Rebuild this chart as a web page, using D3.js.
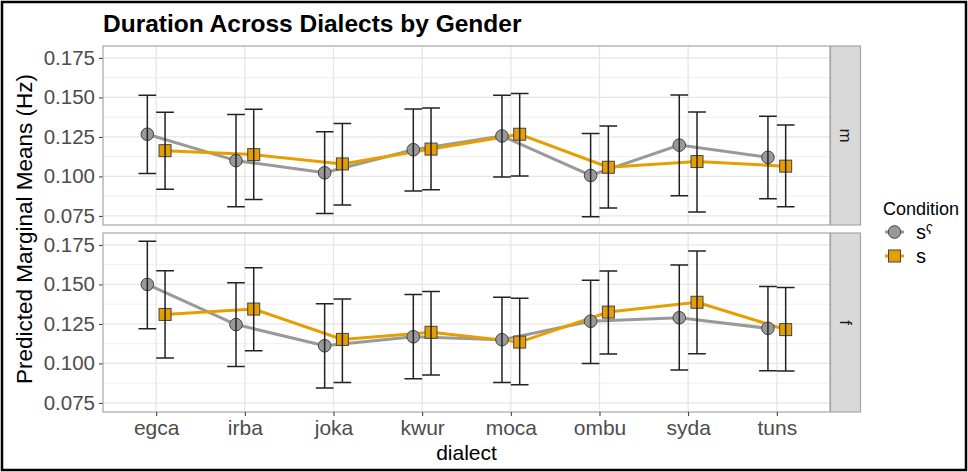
<!DOCTYPE html>
<html>
<head>
<meta charset="utf-8">
<script src="https://cdn.jsdelivr.net/npm/d3@7"></script>
<style>
  html, body { margin: 0; padding: 0; background: #fff; }
  svg { display: block; font-family: "Liberation Sans", Arial, Helvetica, sans-serif; }
</style>
</head>
<body>
<svg id="chart" width="968" height="472"></svg>
<script>
// Dialects along the x axis
const dialects = ["egca", "irba", "joka", "kwur", "moca", "ombu", "syda", "tuns"];
// Facet rows (gender) and legend conditions
const genders = ["m", "f"];
const conditions = ["s\u02E4", "s"];
const yTicks = [0.075, 0.100, 0.125, 0.150, 0.175];

// Predicted marginal means with lower / upper confidence limits
// m, pharyngealised s
const mPharMean = [0.1267, 0.1100, 0.1023, 0.1169, 0.1256, 0.1006, 0.1198, 0.1121];
const mPharLow  = [0.1019, 0.0808, 0.0765, 0.0908, 0.0996, 0.0744, 0.0877, 0.0858];
const mPharHigh = [0.1513, 0.1392, 0.1283, 0.1427, 0.1513, 0.1271, 0.1515, 0.1381];
// m, plain s
const mPlainMean = [0.1163, 0.1138, 0.1079, 0.1173, 0.1267, 0.1058, 0.1094, 0.1065];
const mPlainLow  = [0.0919, 0.0854, 0.0819, 0.0915, 0.1002, 0.0800, 0.0775, 0.0808];
const mPlainHigh = [0.1406, 0.1425, 0.1335, 0.1433, 0.1525, 0.1319, 0.1408, 0.1325];
// f, pharyngealised s
const fPharMean = [0.1500, 0.1246, 0.1112, 0.1169, 0.1150, 0.1267, 0.1289, 0.1222];
const fPharLow  = [0.1220, 0.0980, 0.0845, 0.0903, 0.0880, 0.0999, 0.0958, 0.0954];
const fPharHigh = [0.1774, 0.1510, 0.1378, 0.1436, 0.1419, 0.1527, 0.1623, 0.1487];
// f, plain s
const fPlainMean = [0.1310, 0.1344, 0.1152, 0.1197, 0.1135, 0.1325, 0.1387, 0.1214];
const fPlainLow  = [0.1035, 0.1080, 0.0880, 0.0927, 0.0865, 0.1059, 0.1061, 0.0952];
const fPlainHigh = [0.1587, 0.1606, 0.1408, 0.1455, 0.1412, 0.1585, 0.1712, 0.1480];

const seriesValues = {
  m: [
    { mean: mPharMean, low: mPharLow, high: mPharHigh },
    { mean: mPlainMean, low: mPlainLow, high: mPlainHigh }
  ],
  f: [
    { mean: fPharMean, low: fPharLow, high: fPharHigh },
    { mean: fPlainMean, low: fPlainLow, high: fPlainHigh }
  ]
};

const condStyle = [
  { line: "#999999", fill: "#999999", shape: "circle", dodge: -1 },
  { line: "#E69F00", fill: "#E69F00", shape: "square", dodge: 1 }
];

const svg = d3.select("#chart");
const W = 968, H = 472;

// frame around the figure
svg.append("rect").attr("x", 2).attr("y", 2).attr("width", W - 4).attr("height", H - 4)
  .attr("fill", "#fff").attr("stroke", "#000").attr("stroke-width", 2.5);

const panelLeft = 103, panelRight = 830;
const panels = [
  { gender: "m", top: 46, bottom: 225 },
  { gender: "f", top: 233, bottom: 412 }
];
const stripW = 30;

// shared x scale (discrete)
const x = d3.scalePoint().domain(dialects).range([panelLeft, panelRight]).padding(0.6);
const step = x.step();
const dodge = 0.1 * step;
const capHalf = 0.1 * step;

// shared y domain across facets with 5% expansion
const allVals = [];
genders.forEach(g => seriesValues[g].forEach(s => { allVals.push(...s.low, ...s.high); }));
const [ymin, ymax] = d3.extent(allVals);
const pad = (ymax - ymin) * 0.05;
const yDomain = [ymin - pad, ymax + pad];

const tickFont = "'Liberation Sans', Arial, sans-serif";

panels.forEach(p => {
  const y = d3.scaleLinear().domain(yDomain).range([p.bottom, p.top]);
  const g = svg.append("g");

  // panel background
  g.append("rect").attr("x", panelLeft).attr("y", p.top)
    .attr("width", panelRight - panelLeft).attr("height", p.bottom - p.top).attr("fill", "#fff");

  // minor grid
  const minor = yTicks.slice(0, -1).map((t, i) => (t + yTicks[i + 1]) / 2)
    .concat([yTicks[0] - 0.0125, yTicks[yTicks.length - 1] + 0.0125])
    .filter(v => v > yDomain[0] && v < yDomain[1]);
  g.selectAll(".minor").data(minor).join("line")
    .attr("x1", panelLeft).attr("x2", panelRight)
    .attr("y1", d => y(d)).attr("y2", d => y(d))
    .attr("stroke", "#f0f0f0").attr("stroke-width", 1);
  // major grid
  g.selectAll(".majorY").data(yTicks).join("line")
    .attr("x1", panelLeft).attr("x2", panelRight)
    .attr("y1", d => y(d)).attr("y2", d => y(d))
    .attr("stroke", "#e6e6e6").attr("stroke-width", 1.3);
  g.selectAll(".majorX").data(dialects).join("line")
    .attr("x1", d => x(d)).attr("x2", d => x(d))
    .attr("y1", p.top).attr("y2", p.bottom)
    .attr("stroke", "#e6e6e6").attr("stroke-width", 1.3);

  // y axis
  const yAxis = d3.axisLeft(y).tickValues(yTicks).tickFormat(d3.format(".3f")).tickSize(4).tickPadding(4);
  const ya = g.append("g").attr("transform", `translate(${panelLeft},0)`).call(yAxis);
  ya.select(".domain").remove();
  ya.selectAll(".tick line").attr("stroke", "#333").attr("stroke-width", 1);
  ya.selectAll(".tick text").attr("fill", "#4d4d4d").style("font-size", "20.5px")
    .style("font-family", tickFont);

  // lines per condition
  const sv = seriesValues[p.gender];
  sv.forEach((s, ci) => {
    const st = condStyle[ci];
    const line = d3.line().x((d, i) => x(dialects[i]) + st.dodge * dodge).y(d => y(d));
    g.append("path").datum(s.mean).attr("d", line)
      .attr("fill", "none").attr("stroke", st.line).attr("stroke-width", 3);
  });

  // points
  sv.forEach((s, ci) => {
    const st = condStyle[ci];
    const pts = s.mean.map((v, i) => ({ cx: x(dialects[i]) + st.dodge * dodge, cy: y(v) }));
    if (st.shape === "circle") {
      g.selectAll(null).data(pts).join("circle")
        .attr("cx", d => d.cx).attr("cy", d => d.cy).attr("r", 6.3)
        .attr("fill", st.fill).attr("stroke", "#444").attr("stroke-width", 1);
    } else {
      g.selectAll(null).data(pts).join("rect")
        .attr("x", d => d.cx - 6).attr("y", d => d.cy - 6).attr("width", 12).attr("height", 12)
        .attr("fill", st.fill).attr("stroke", "#444").attr("stroke-width", 1);
    }
  });

  // error bars
  sv.forEach((s, ci) => {
    const st = condStyle[ci];
    const bars = s.mean.map((v, i) => ({
      cx: x(dialects[i]) + st.dodge * dodge, lo: y(s.low[i]), hi: y(s.high[i])
    }));
    const eb = g.append("g").attr("stroke", "#222").attr("stroke-width", 1.5).attr("fill", "none");
    eb.selectAll(null).data(bars).join("path")
      .attr("d", d => `M${d.cx - capHalf},${d.hi}H${d.cx + capHalf}M${d.cx},${d.hi}V${d.lo}M${d.cx - capHalf},${d.lo}H${d.cx + capHalf}`);
  });

  // panel border
  g.append("rect").attr("x", panelLeft).attr("y", p.top)
    .attr("width", panelRight - panelLeft).attr("height", p.bottom - p.top)
    .attr("fill", "none").attr("stroke", "#a6a6a6").attr("stroke-width", 1.2);

  // facet strip
  g.append("rect").attr("x", panelRight + 0.5).attr("y", p.top)
    .attr("width", stripW).attr("height", p.bottom - p.top)
    .attr("fill", "#d9d9d9").attr("stroke", "#a6a6a6").attr("stroke-width", 1.2);
  g.append("text")
    .attr("transform", `translate(${panelRight + 0.5 + stripW / 2},${(p.top + p.bottom) / 2}) rotate(90)`)
    .attr("text-anchor", "middle").attr("dy", "0.35em")
    .attr("fill", "#1a1a1a").style("font-size", "17px").text(p.gender);
});

// x axis at bottom
const xAxisY = panels[1].bottom;
const xa = svg.append("g").attr("transform", `translate(0,${xAxisY})`)
  .call(d3.axisBottom(x).tickSize(4).tickPadding(4));
xa.select(".domain").remove();
xa.selectAll(".tick line").attr("stroke", "#333");
xa.selectAll(".tick text").attr("fill", "#4d4d4d").style("font-size", "21px")
  .style("font-family", tickFont);

// axis titles
svg.append("text").attr("x", (panelLeft + panelRight) / 2).attr("y", 460)
  .attr("text-anchor", "middle").style("font-size", "21px").attr("fill", "#000").text("dialect");
svg.append("text")
  .attr("transform", `translate(32,${(panels[0].top + panels[1].bottom) / 2}) rotate(-90)`)
  .attr("text-anchor", "middle").style("font-size", "22.5px").attr("fill", "#000")
  .text("Predicted Marginal Means (Hz)");

// title
svg.append("text").attr("x", panelLeft).attr("y", 32)
  .style("font-size", "24.5px").style("font-weight", "bold").attr("fill", "#000")
  .text("Duration Across Dialects by Gender");

// legend
const lg = svg.append("g");
lg.append("text").attr("x", 883).attr("y", 215).style("font-size", "18px").attr("fill", "#000").text("Condition");
conditions.forEach((c, i) => {
  const st = condStyle[i];
  const cy = 232 + i * 24;
  lg.append("line").attr("x1", 885).attr("x2", 904).attr("y1", cy).attr("y2", cy)
    .attr("stroke", st.line).attr("stroke-width", 3);
  if (st.shape === "circle") {
    lg.append("circle").attr("cx", 894.5).attr("cy", cy).attr("r", 6.3)
      .attr("fill", st.fill).attr("stroke", "#444");
  } else {
    lg.append("rect").attr("x", 888.5).attr("y", cy - 6).attr("width", 12).attr("height", 12)
      .attr("fill", st.fill).attr("stroke", "#444");
  }
  lg.append("text").attr("x", 916).attr("y", cy).attr("dy", "0.35em")
    .style("font-size", "20px").attr("fill", "#000").text(c);
});
</script>
</body>
</html>
